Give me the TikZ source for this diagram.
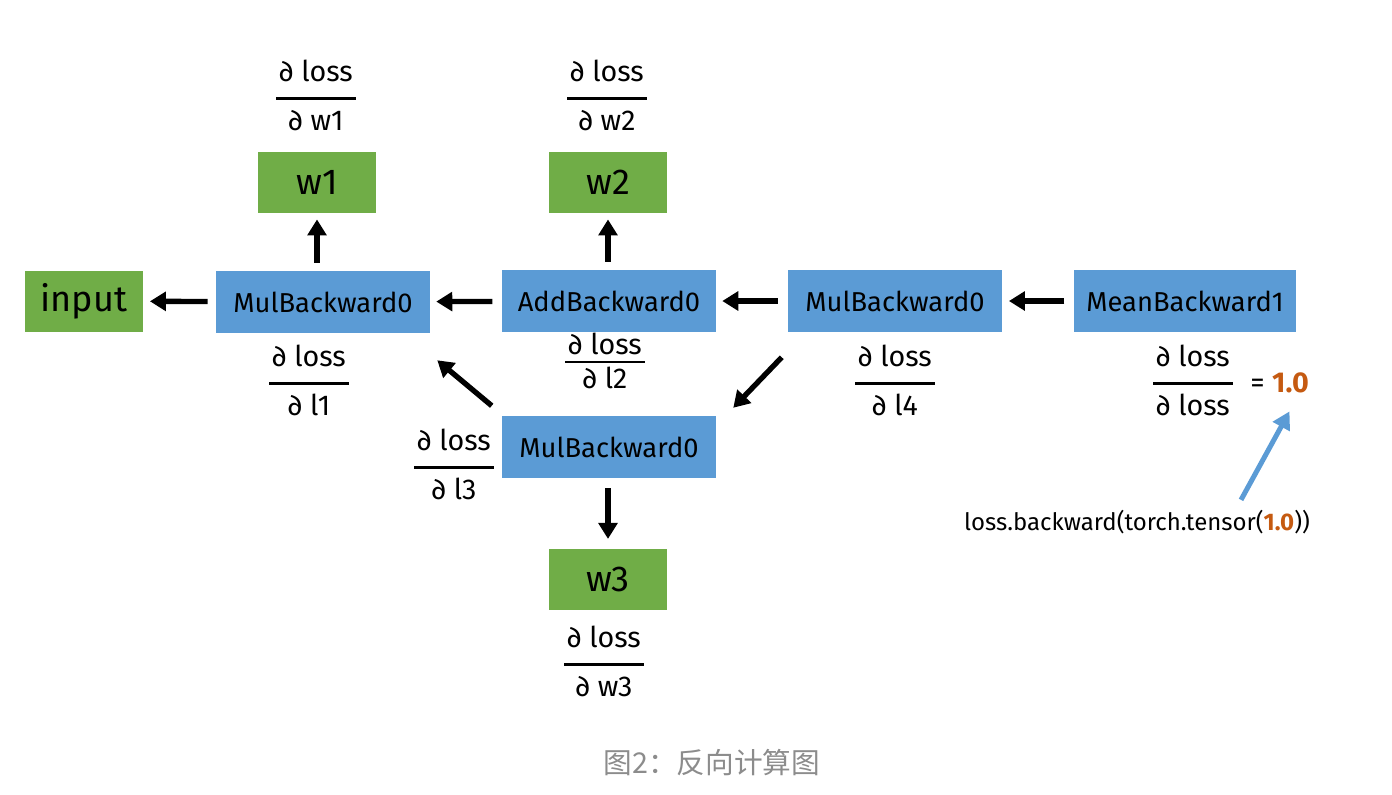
\documentclass[tikz,border=0pt]{standalone}
\usepackage{fontspec}
\setmainfont{Fira Sans}
\newfontfamily\cjk{Noto Sans CJK SC}
\usetikzlibrary{arrows.meta}
\definecolor{opblue}{HTML}{5B9BD5}
\definecolor{leafgreen}{HTML}{70AD47}
\definecolor{gradorange}{HTML}{C55A11}
\newcommand{\pdfrac}[1]{\setlength{\arrayrulewidth}{1.8pt}\renewcommand{\arraystretch}{1.25}%
  \begin{tabular}{@{\hspace{2pt}}c@{\hspace{2pt}}}∂ loss\\[3pt]\hline\rule{0pt}{23pt}∂ #1\end{tabular}}
\newcommand{\pdfractight}[1]{\setlength{\arrayrulewidth}{1.8pt}\renewcommand{\arraystretch}{0.65}%
  \begin{tabular}{@{\hspace{2pt}}c@{\hspace{2pt}}}∂ loss\\\hline\rule{0pt}{19pt}∂ #1\end{tabular}}

\begin{document}
\begin{tikzpicture}[x=0.75pt,y=-0.75pt]
    \tikzset{op/.style = {fill=opblue, minimum width=160.5pt, minimum height=46.5pt, inner sep=0pt, font=\fontsize{20.5}{22}\selectfont}}
    \tikzset{leaf/.style = {fill=leafgreen, minimum width=88.5pt, minimum height=45.75pt, inner sep=0pt, font=\fontsize{27}{29}\selectfont}}
    \tikzset{grad/.style = {inner sep=0pt, font=\fontsize{21.5}{24}\selectfont}}
    \tikzset{back/.style = {draw, line width=4pt, -{Triangle[length=12pt,width=14pt]}}}

    \useasboundingbox (0,0) rectangle (1392,794);

    % vertices
    \node[leaf] (input) at (84,301)  {input};
    \node[op]   (mul1)  at (323,302) {MulBackward0};
    \node[leaf] (w1)    at (317,182) {w1};
    \node[op]   (add)   at (609,301) {AddBackward0};
    \node[leaf] (w2)    at (608,182) {w2};
    \node[op]   (mul4)  at (895,301) {MulBackward0};
    \node[op, minimum width=166.5pt] (mean) at (1185,301) {MeanBackward1};
    \node[op]   (mul3)  at (609,447) {MulBackward0};
    \node[leaf] (w3)    at (608,579) {w3};

    % gradients
    \node[grad] (dw1) at (316,98)  {\pdfrac{w1}};
    \node[grad] (dw2) at (607,98)  {\pdfrac{w2}};
    \node[grad] (dl1) at (309,383) {\pdfrac{l1}};
    \node[grad] (dl2) at (605,364) {\pdfractight{l2}};
    \node[grad] (dl4) at (895,383) {\pdfrac{l4}};
    \node[grad] (dl3) at (454,467) {\pdfrac{l3}};
    \node[grad] (dw3) at (604,664) {\pdfrac{w3}};
    \node[grad] (dloss) at (1193,383) {\pdfrac{loss}};
    \node[grad, anchor=west] (eq) at (1250,383) {= \textcolor{gradorange}{\textbf{1.0}}};
    \node[inner sep=0pt, font=\fontsize{18}{20}\selectfont] (call) at (1137,522)
        {loss.backward(torch.tensor(\textcolor{gradorange}{\textbf{1.0}}))};

    % edges
    \draw[back, shorten <=6pt, shorten >=5pt] (mul1) -- (input);
    \draw[back, shorten <=7pt, shorten >=4.5pt] (add) -- (mul1);
    \draw[back, shorten <=7.5pt, shorten >=4.5pt] (mul4) -- (add);
    \draw[back, shorten <=7pt, shorten >=5pt] (mean) -- (mul4);
    \draw[back, shorten <=6pt, shorten >=5pt] (mul1.north -| w1.south) -- (w1.south);
    \draw[back, shorten <=6pt, shorten >=5pt] (add.north -| w2.south) -- (w2.south);
    \draw[back, shorten <=7.5pt, shorten >=7pt] (mul3.south -| w3.north) -- (w3.north);
    \draw[back] ([shift={(-10,-10)}]mul3.north west) -- ([shift={(7,27)}]mul1.south east);
    \draw[back] ([shift={(-6,25)}]mul4.south west) -- ([shift={(17,-8)}]mul3.north east);
    \draw[draw=opblue, line width=3.75pt, -{Triangle[length=13pt,width=14pt]}]
        ([shift={(104,-10)}]call.north) -- ([shift={(10,18)}]eq.south);

    % caption
    \node[text=black!45, font=\cjk\fontsize{21.5}{24}\selectfont] (caption) at (712,763) {图2：反向计算图};
\end{tikzpicture}
\end{document}
